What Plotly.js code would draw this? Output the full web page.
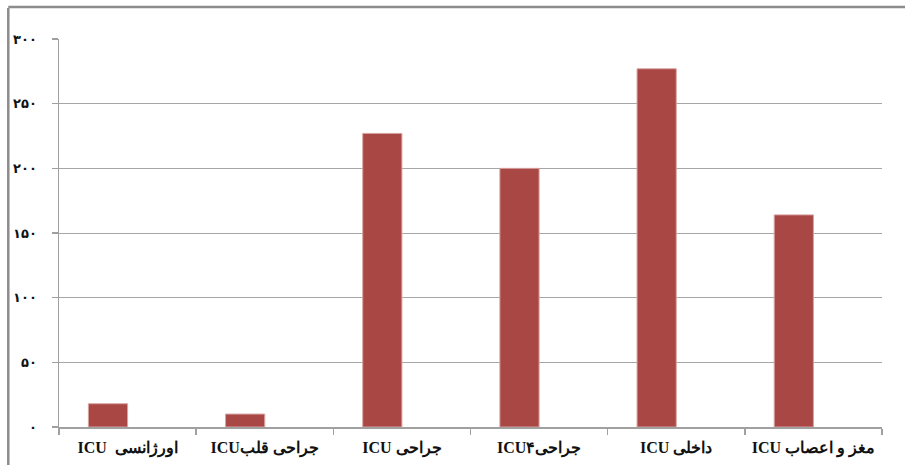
<!DOCTYPE html>
<html>
<head>
<meta charset="utf-8">
<script src="https://cdn.plot.ly/plotly-3.0.1.min.js"></script>
<style>
html,body{margin:0;padding:0;background:#fff;}
#chart{width:905px;height:465px;}
</style>
</head>
<body>
<div id="chart"></div>
<script>
// Categories (logical text, shown right-to-left), left to right on the axis
var categories = ["اورژانسی  ICU", "جراحی قلبICU", "جراحی ICU", "جراحیICU۴", "داخلی ICU", "مغز و اعصاب ICU"];
// Series values
var values = [18, 10, 227, 200, 277, 164];
// Y tick values and Persian labels
var yTickVals = [0, 50, 100, 150, 200, 250, 300];
var yTickText = ["۰", "۵۰", "۱۰۰", "۱۵۰", "۲۰۰", "۲۵۰", "۳۰۰"];

// wrap in a right-to-left embedding so the label reads as in the original
var xLabels = categories.map(function (c) { return "\u202B" + c + "\u202C"; });

var trace = {
  type: "bar",
  x: xLabels,
  y: values,
  width: 0.2857,
  offset: -0.2857,
  marker: {color: "#A94745", line: {color: "#D8A3A2", width: 1}},
  hoverinfo: "x+y"
};

var layout = {
  width: 905,
  height: 465,
  margin: {l: 59, r: 23, t: 39, b: 38, pad: 0},
  paper_bgcolor: "#ffffff",
  plot_bgcolor: "#ffffff",
  showlegend: false,
  font: {family: "Liberation Serif, DejaVu Serif, serif", color: "#1a1a1a"},
  xaxis: {
    type: "category",
    showline: true,
    linecolor: "#A0A0A0",
    linewidth: 1.5,
    ticks: "outside",
    tickson: "boundaries",
    ticklen: 6,
    tickcolor: "#A0A0A0",
    tickwidth: 1.5,
    showgrid: false,
    ticklabelstandoff: 5,
    tickfont: {family: "Liberation Serif, DejaVu Serif, serif", size: 16, color: "#111111", weight: "bold"},
    fixedrange: true
  },
  yaxis: {
    range: [0, 300],
    tickvals: yTickVals,
    ticktext: yTickText,
    showline: true,
    linecolor: "#A0A0A0",
    linewidth: 1.5,
    ticks: "outside",
    ticklen: 6,
    tickcolor: "#A0A0A0",
    tickwidth: 1.5,
    showgrid: true,
    gridcolor: "#A6A6A6",
    gridwidth: 1,
    zeroline: false,
    ticklabelstandoff: 12,
    tickfont: {family: "DejaVu Sans, sans-serif", size: 13, color: "#111111", weight: "bold"},
    fixedrange: true
  },
  shapes: [
    {type: "line", xref: "paper", yref: "paper", x0: -0.0616, x1: -0.0616, y0: 1.08, y1: -0.1,
     line: {color: "#8C8C8C", width: 2.5}},
    {type: "line", xref: "paper", yref: "paper", x0: -0.0616, x1: 1.05, y0: 1.0825, y1: 1.0825,
     line: {color: "#8C8C8C", width: 2.5}}
  ]
};

Plotly.newPlot("chart", [trace], layout, {displayModeBar: false, staticPlot: true});
</script>
</body>
</html>
